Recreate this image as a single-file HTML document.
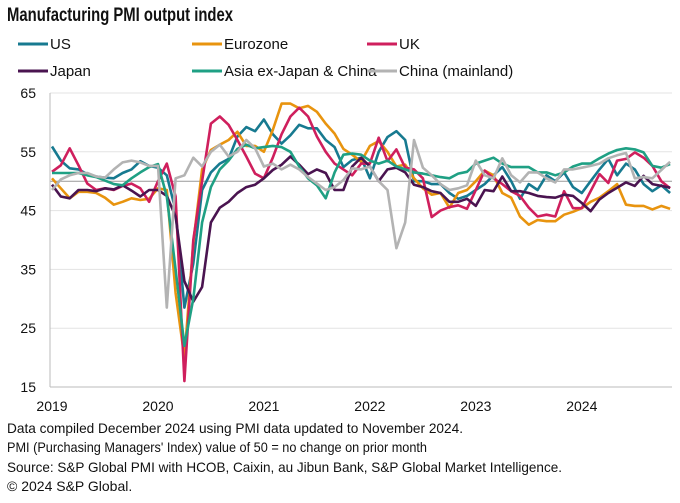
<!DOCTYPE html>
<html><head><meta charset="utf-8"><style>
body{margin:0;background:#fff;width:680px;height:503px;overflow:hidden;font-family:"Liberation Sans",sans-serif;}
svg{position:absolute;left:0;top:0}
</style></head><body>
<svg id="c" width="680" height="503">
<text x="7" y="21" font-size="19" font-weight="bold" fill="#111" textLength="226" lengthAdjust="spacingAndGlyphs">Manufacturing PMI output index</text>
<g id="legend"></g>
<g id="grid"></g><g id="series"></g><g id="axes"></g>
<g font-size="14" fill="#111">
<text x="7" y="433" textLength="456" lengthAdjust="spacingAndGlyphs">Data compiled December 2024 using PMI data updated to November 2024.</text>
<text x="7" y="452" textLength="420" lengthAdjust="spacingAndGlyphs">PMI (Purchasing Managers' Index) value of 50 = no change on prior month</text>
<text x="7" y="472" textLength="555" lengthAdjust="spacingAndGlyphs">Source: S&amp;P Global PMI with HCOB, Caixin, au Jibun Bank, S&amp;P Global Market Intelligence.</text>
<text x="7" y="491">© 2024 S&amp;P Global.</text>
</g>
</svg>
<script>
const yTicks=[65,55,45,35,25,15];
const xLabels=["2019","2020","2021","2022","2023","2024"];
const names=["US","Eurozone","UK","Japan","Asia ex-Japan & China","China (mainland)"];
const colors=["#177a90","#e8940f","#cf1f5d","#4a1450","#1fa084","#b3b3b3"];
const us=[55.9,53.5,52.2,52,51.2,50.8,50.6,50.5,51.4,52,53.4,52.6, 52.3,51,45,28.5,36,48.5,51.5,53,53.8,57.6,59.2,58.5, 60.5,58,56.4,57.8,59.6,59,59,57,55.8,52.4,53.6,54, 50.5,55,57.5,58.5,57,50,50,49.5,49.5,48,47,47.5, 48.5,49.5,51,52.4,50,47,49.5,48.5,51,50,51.5,49, 48,50,52,53.8,51,53,52,49.5,48.3,49.3,48];
const ez=[50.5,48.8,47.1,48.2,48.2,48,47.2,46,46.5,47.1,46.8,47, 48.8,48.5,31,20,39.5,52,55.3,56.2,57,58.4,56,56, 55,58.7,63.2,63.2,62.4,62.8,61.8,59.8,58.1,55.5,54.5,53.3, 56,56.8,55,52.5,52.8,50.5,48.8,47.7,48,45.5,48,48.5, 50,51.8,51,48,47.2,44,42.6,43.4,43.2,43.2,44.3,44.8, 45.4,46.5,47.2,48.3,49.5,46,45.8,45.8,45.2,45.8,45.3];
const uk=[51.6,52.7,55.6,52.7,49.6,48.5,48.8,48.5,49.2,49.6,48.8,46.5, 50,53,47.4,16,40,50,59.8,61,59.6,57,54.2,51.3, 50.5,54,58,61,62.5,61,57.6,55,53,52,51,53, 53,57.4,53.4,55.4,52.3,52,50.5,43.9,45,45.6,45.9,45.3, 48.5,51.8,50.5,49.5,48.3,47.5,45.5,44,44.3,44,48.3,45.4, 45.4,48.3,51.2,49.7,53.5,53.8,54.9,54,52.6,50,48.8];
const jp=[49.4,47.4,47.1,48.5,48.5,48.3,48.8,48.6,49.3,48.4,47.4,48.5, 48.5,47.5,44,33,29.5,32,43,45.5,46.5,48,49,49.4, 50.5,51.9,52.8,54.2,52.8,51.2,52,51.4,48.5,48.5,52.5,54, 52.5,50,52,52.3,51.5,49.4,49,48.3,48,46.5,46.5,47, 45.8,48.5,48.3,50.8,48.3,48.3,48,47.5,47.3,47.2,47.7,47.5, 46.3,44.9,46.9,48,48.9,49.8,49.2,50.9,49.5,49.2,48.9];
const asia=[51.4,51.4,51.4,51.4,51,50.7,50.1,49.5,49.3,50.5,51.5,52.4, 52.9,47.4,35,22,30,43,49,52,53.5,55.5,56.2,55.6, 55.8,56,55.8,55,52.5,50.5,49.3,47.1,51.5,54.5,54.7,54.5, 53.5,53,53.5,52.5,52,51.5,51.3,51,50.7,50.5,51.3,51.6, 53,53.5,54,53,52.4,52.4,52.4,51.5,51.5,51,51.5,52.5, 53,53,53.9,54.7,55.3,55.6,55.4,54.9,52.6,52.3,52.9];
const cn=[48.5,50.3,51,51.4,51.4,50.8,50.6,52,53.2,53.5,53.2,52.6, 52.6,28.5,50.5,51,54,52.5,55,56.2,54.2,55,57,55.6, 52.5,53,52,52.8,52,50.7,49.6,48.5,49,50.2,52.2,52, 52.5,50,48.5,38.6,43,57,52.3,51,49.5,48.5,48.8,49.3, 53.5,51,50.5,53.9,51,49.8,51.5,51.5,50.5,49.8,52,52, 52.3,52.6,53,53.9,54.4,54.8,50.5,50.7,50.5,51.9,53.3];
const allSeries=[us,ez,uk,jp,asia,cn];
const NS="http://www.w3.org/2000/svg";
const x0=52,xStep=8.83,yTop=93,yBot=387;
const xs=i=>x0+i*xStep;
const ys=v=>yBot-(v-15)/(65-15)*(yBot-yTop);
function mk(t,a,p){const e=document.createElementNS(NS,t);for(const k in a)e.setAttribute(k,a[k]);p.appendChild(e);return e;}
const grid=document.getElementById('grid'),axes=document.getElementById('axes'),ser=document.getElementById('series'),leg=document.getElementById('legend');
yTicks.forEach(v=>{
 if(v>15){const l=mk('line',{x1:50,x2:672,y1:ys(v),y2:ys(v),stroke:'#e3e3e3','stroke-width':1},grid);
 
 }
 const t=mk('text',{x:36,y:ys(v)+5,'font-size':14,'text-anchor':'end',fill:'#111'},axes);t.textContent=v;
 
 
});
const fl=mk('line',{x1:50,x2:672,y1:ys(50),y2:ys(50),stroke:'#999','stroke-width':1},grid);


const ya=mk('line',{x1:50,x2:50,y1:yTop,y2:yBot,stroke:'#bbb','stroke-width':1},axes);


const xa=mk('line',{x1:50,x2:672,y1:yBot,y2:yBot,stroke:'#bbb','stroke-width':1},axes);


xLabels.forEach((s,i)=>{const t=mk('text',{x:xs(i*12),y:411,'font-size':14,'text-anchor':'middle',fill:'#111'},axes);t.textContent=s;
 
 });
allSeries.forEach((d,k)=>{
 const p=mk('polyline',{points:d.map((v,i)=>xs(i).toFixed(1)+','+ys(v).toFixed(1)).join(' '),fill:'none',stroke:colors[k],'stroke-width':2.6,'stroke-linejoin':'round'},ser);
 
 
 const cx=[18,192,367][k%3],cy=[44,71][Math.floor(k/3)];
 const g=mk('g',{},leg);
 
 
 mk('line',{x1:cx,x2:cx+30,y1:cy,y2:cy,stroke:colors[k],'stroke-width':3},g);
 const t=mk('text',{x:cx+32,y:cy+5,'font-size':15,fill:'#111'},g);t.textContent=names[k];
});
</script>
</body></html>
